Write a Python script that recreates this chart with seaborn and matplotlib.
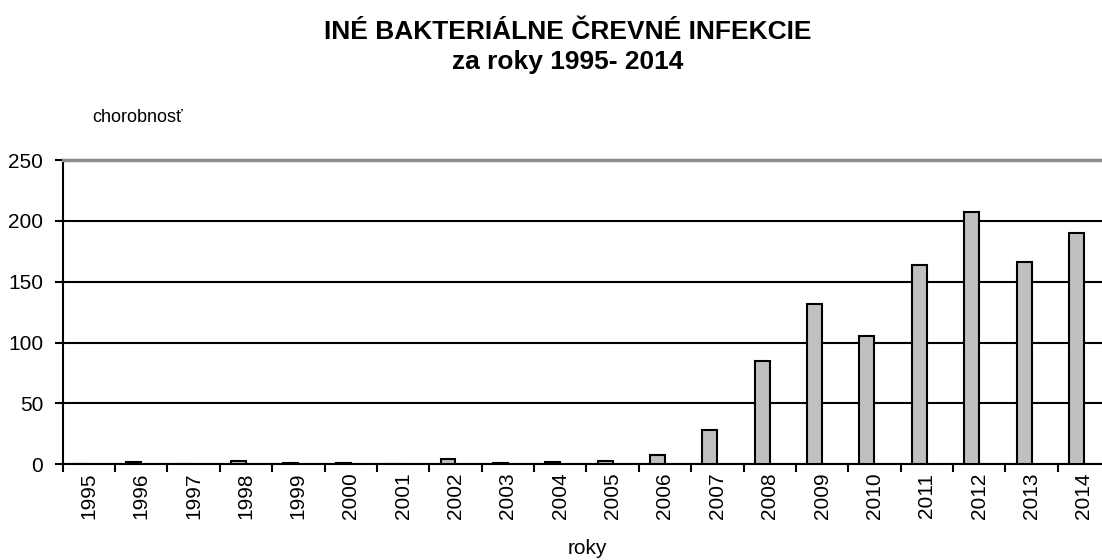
import matplotlib
matplotlib.use("Agg")
import matplotlib.pyplot as plt
import pandas as pd
import seaborn as sns
from matplotlib.ticker import FixedLocator

# Data
years = [str(y) for y in range(1995, 2015)]
morbidity = [0, 2, 0, 3, 1, 1, 0, 4, 1, 2, 3, 8, 28, 85, 132, 105, 164, 207, 166, 190]
y_ticks = [0, 50, 100, 150, 200, 250]

title = "INÉ BAKTERIÁLNE ČREVNÉ INFEKCIE\nza roky 1995- 2014"
y_label = "chorobnosť"
x_label = "roky"


def plot_chart():
    sns.set_theme(style="white")
    plt.rcParams["font.family"] = ["Liberation Sans", "DejaVu Sans"]
    plt.rcParams["text.color"] = "black"
    plt.rcParams["xtick.color"] = "black"
    plt.rcParams["ytick.color"] = "black"

    df = pd.DataFrame({"rok": years, "chorobnost": morbidity, "seria": "chorobnost"})

    fig = plt.figure(figsize=(11.02, 5.6), dpi=100)
    ax = fig.add_axes([62.7 / 1102, 95.7 / 560, 1047.4 / 1102, 304.3 / 560])

    # second (empty) series reproduces the Excel-style left offset of bars
    sns.barplot(
        data=df,
        x="rok",
        y="chorobnost",
        hue="seria",
        hue_order=["chorobnost", "prazdna"],
        order=years,
        dodge=True,
        width=0.571,
        palette=["#C0C0C0", "#C0C0C0"],
        edgecolor="black",
        linewidth=1.5,
        legend=False,
        errorbar=None,
        ax=ax,
        zorder=3,
    )

    ax.set_xlim(-0.5, len(years) - 0.5)
    ax.set_ylim(y_ticks[0], y_ticks[-1])
    ax.set_yticks(y_ticks)
    ax.yaxis.grid(True, color="black", linewidth=1.5)
    ax.xaxis.grid(False)
    ax.set_axisbelow(True)

    ax.xaxis.set_minor_locator(FixedLocator([i - 0.5 for i in range(len(years) + 1)]))
    ax.tick_params(axis="x", which="major", length=0, labelsize=15, rotation=90, pad=6)
    ax.tick_params(axis="x", which="minor", length=6, width=1.5, color="black", direction="out")
    ax.tick_params(axis="y", length=6, width=1.5, color="black", direction="out", labelsize=15, pad=8)
    ax.tick_params(bottom=True, left=True, which="both")

    for side in ["left", "bottom"]:
        ax.spines[side].set_color("black")
        ax.spines[side].set_linewidth(1.5)
    ax.spines["top"].set_color("#8c8c8c")
    ax.spines["top"].set_linewidth(2.5)
    ax.spines["right"].set_visible(False)

    ax.set_xlabel("")
    ax.set_ylabel("")

    fig.text(568 / 1102, 1 - 47 / 560, title, ha="center", va="center",
             fontsize=19, fontweight="bold", linespacing=1.3, color="black")
    fig.text(92 / 1102, 1 - 118 / 560, y_label, ha="left", va="center",
             fontsize=13, color="black")
    fig.text(587 / 1102, 1 - 549 / 560, x_label, ha="center", va="center",
             fontsize=15, color="black")

    fig.savefig("out.png", dpi=100)
    plt.close(fig)


if __name__ == "__main__":
    plot_chart()
